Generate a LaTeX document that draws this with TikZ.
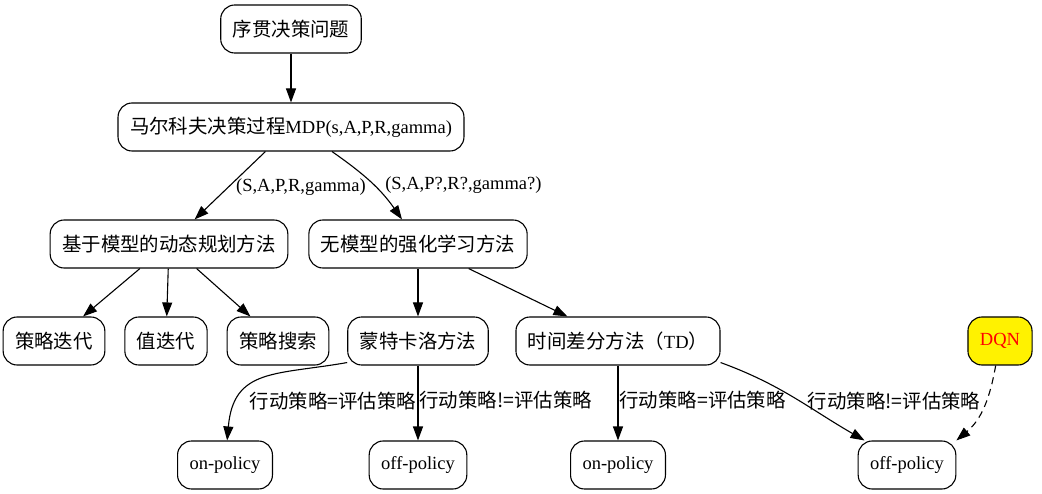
\documentclass[tikz,border=0pt]{standalone}
\usepackage{fontspec}
\setmainfont{Liberation Serif}
\newfontfamily\cjk[Scale=1.05]{Noto Sans CJK SC}
\usepackage{tikz}
\usetikzlibrary{arrows.meta, positioning}

\tikzset{
	box/.style={draw, rounded corners=14pt, line width=1.1pt, inner xsep=12pt, minimum height=48pt},
	arr/.style={-{Triangle[length=14pt, width=10pt]}, line width=1.1pt},
	lab/.style={anchor=west, inner sep=1pt}
}

\begin{document}
\begin{tikzpicture}[x=1pt, y=-1pt, every node/.append style={font=\fontsize{18.5}{22}\selectfont}]
			\useasboundingbox (0,0) rectangle (1042,494);

			\node[box] (seq) at (291,29) {\cjk 序贯决策问题};
			\node[box] (mdp) at (291,127) {{\cjk 马尔科夫决策过程}MDP(s,A,P,R,gamma)};

			\node[box] (dp) at (169,244) {\cjk 基于模型的动态规划方法};
			\node[box] (mf) at (418,244) {\cjk 无模型的强化学习方法};

			\node[box] (pi) at (54,341) {\cjk 策略迭代};
			\node[box] (vi) at (166,341) {\cjk 值迭代};
			\node[box] (ps) at (278,341) {\cjk 策略搜索};
			\node[box] (mc) at (418,341) {\cjk 蒙特卡洛方法};
			\node[box] (td) at (618,341) {{\cjk 时间差分方法（}TD{\cjk ）}};
			\node[box, fill=yellow, text=red] (dqn) at (1000,341) {DQN};

			\node[box] (mcon) at (225,465) {on-policy};
			\node[box] (mcoff) at (418,465) {off-policy};
			\node[box] (tdon) at (618,465) {on-policy};
			\node[box] (tdoff) at (907,465) {off-policy};

			\path[arr]
				(seq) edge (mdp)
				(mdp) edge node[lab, pos=0.52, xshift=6pt] (lmb) {(S,A,P,R,gamma)} (dp)
				([xshift=41pt]mdp.south) edge[out=-35, in=125] node[lab, pos=0.55, xshift=10pt] (lmf) {(S,A,P?,R?,gamma?)} ([xshift=-16pt]mf.north);

			\path[arr]
				(dp) edge (pi)
				(dp) edge (vi)
				(dp) edge (ps)
				(mf) edge (mc)
				(mf) edge (td);

			\path[arr]
				([yshift=3pt]mc.south west) edge[out=190, in=85, looseness=1.3] node[lab, pos=0.7, xshift=6pt, yshift=-7pt] (lmcon) {\cjk 行动策略=评估策略} (mcon)
				(mc) edge node[lab, pos=0.46] (lmcoff) {\cjk 行动策略!=评估策略} (mcoff)
				(td) edge node[lab, pos=0.46] (ltdon) {\cjk 行动策略=评估策略} (tdon)
				([yshift=3pt]td.south east) edge[out=-20, in=150] node[lab, pos=0.5, xshift=12pt, yshift=-3pt] (ltdoff) {\cjk 行动策略!=评估策略} (tdoff)
				(dqn) edge[out=-100, in=40, dash pattern=on 7pt off 5pt] (tdoff.north east);
		\end{tikzpicture}
\end{document}
